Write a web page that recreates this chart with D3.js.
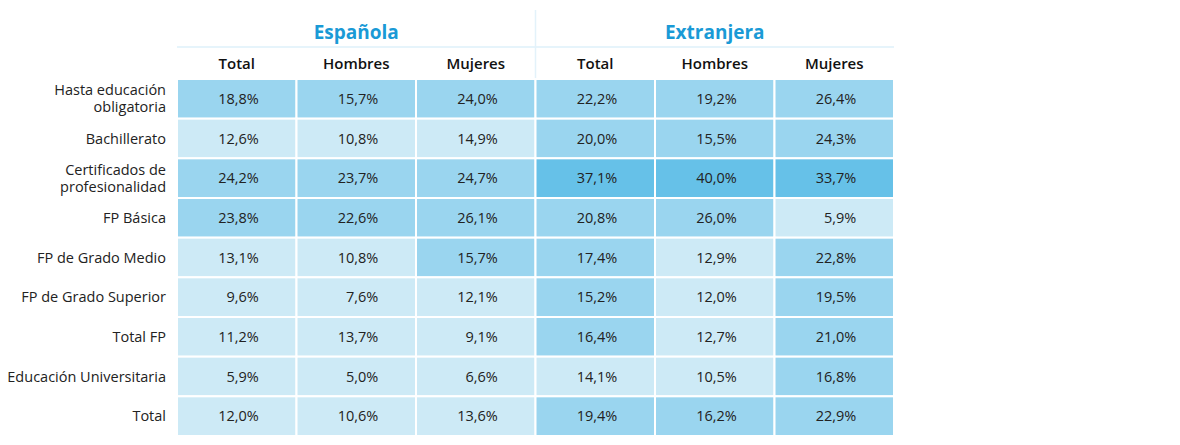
<!DOCTYPE html>
<html><head><meta charset="utf-8">
<script src="https://cdn.jsdelivr.net/npm/d3@7"></script>
<style>body{margin:0;background:#fff;font-family:"Open Sans",sans-serif;}</style>
</head><body><div id="chart"></div>
<script>
// data
const rows = ["Hasta educación|obligatoria", "Bachillerato", "Certificados de|profesionalidad", "FP Básica",
  "FP de Grado Medio", "FP de Grado Superior", "Total FP", "Educación Universitaria", "Total"];
const groups = ["Española", "Extranjera"];
const cols = ["Total", "Hombres", "Mujeres", "Total", "Hombres", "Mujeres"];
const values = [
  [18.8, 15.7, 24.0, 22.2, 19.2, 26.4],
  [12.6, 10.8, 14.9, 20.0, 15.5, 24.3],
  [24.2, 23.7, 24.7, 37.1, 40.0, 33.7],
  [23.8, 22.6, 26.1, 20.8, 26.0, 5.9],
  [13.1, 10.8, 15.7, 17.4, 12.9, 22.8],
  [9.6, 7.6, 12.1, 15.2, 12.0, 19.5],
  [11.2, 13.7, 9.1, 16.4, 12.7, 21.0],
  [5.9, 5.0, 6.6, 14.1, 10.5, 16.8],
  [12.0, 10.6, 13.6, 19.4, 16.2, 22.9]
];

const W = 1180, H = 445;
const svg = d3.select("#chart").append("svg").attr("width", W).attr("height", H);

const x = d3.scaleBand().domain(d3.range(cols.length)).range([177, 894]);
const y = d3.scaleBand().domain(d3.range(rows.length)).range([79, 436]);
const color = d3.scaleThreshold().domain([15, 30]).range(["#cdeaf6", "#9ad5ef", "#66c1e8"]);
const fmt = v => v.toFixed(1).replace(".", ",") + "%";

// header lines
svg.append("line").attr("x1", 177).attr("x2", 894).attr("y1", 47).attr("y2", 47)
  .attr("stroke", "#e6f4fb").attr("stroke-width", 2);
svg.append("line").attr("x1", x(3)).attr("x2", x(3)).attr("y1", 10).attr("y2", 79)
  .attr("stroke", "#e3f2fa").attr("stroke-width", 1.5);

groups.forEach((g, i) => {
  svg.append("text").attr("x", x(i * 3) + x.bandwidth() * 1.5).attr("y", 39)
    .attr("text-anchor", "middle").attr("fill", "#1a9ad6")
    .style("font-size", "19px").style("font-weight", "bold").text(g);
});
cols.forEach((c, i) => {
  svg.append("text").attr("x", x(i) + x.bandwidth() / 2).attr("y", 69)
    .attr("text-anchor", "middle").attr("fill", "#111")
    .style("font-size", "15px").style("font-weight", "600").text(c);
});

// cells
values.forEach((r, ri) => {
  r.forEach((v, ci) => {
    svg.append("rect").attr("x", x(ci)).attr("y", y(ri))
      .attr("width", x.bandwidth()).attr("height", y.bandwidth())
      .attr("fill", color(v)).attr("stroke", "#fff").attr("stroke-width", 2);
    svg.append("text").attr("x", x(ci) + x.bandwidth() / 2 + 8).attr("y", y(ri) + y.bandwidth() / 2 + 5)
      .attr("text-anchor", "end").attr("fill", "#222").style("font-size", "14.5px")
      .attr("dx", 14).text(fmt(v));
  });
  const lines = rows[ri].split("|");
  const t = svg.append("text").attr("x", 166).attr("text-anchor", "end").attr("fill", "#222")
    .style("font-size", "14.5px");
  lines.forEach((l, li) => {
    t.append("tspan").attr("x", 166)
      .attr("y", y(ri) + y.bandwidth() / 2 + 5 + (li - (lines.length - 1) / 2) * 17).text(l);
  });
});
</script></body></html>
